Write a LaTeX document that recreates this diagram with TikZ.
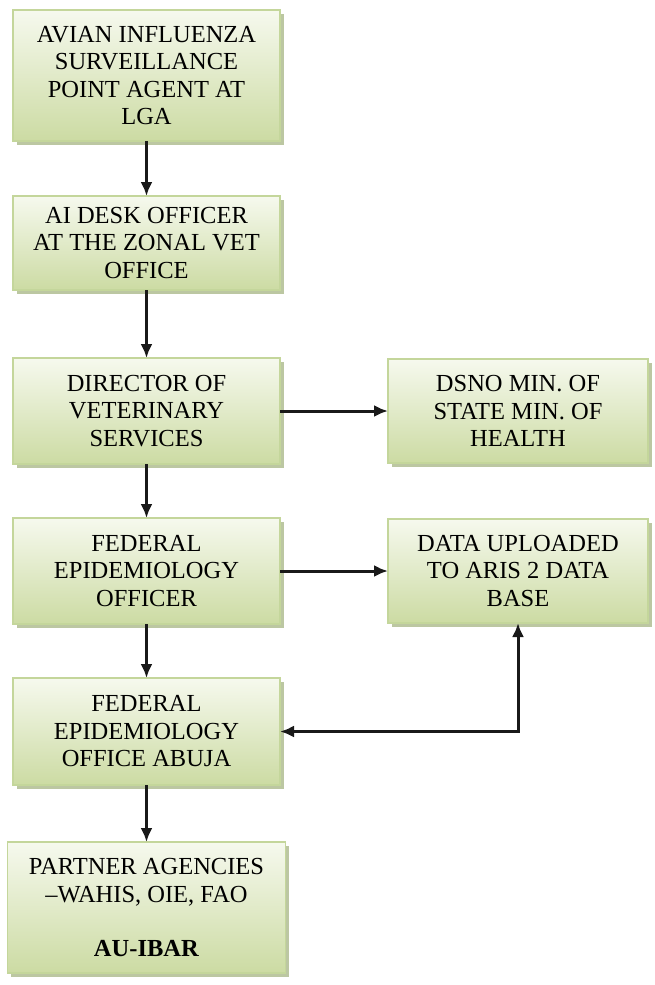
\documentclass[tikz,border=0pt]{standalone}
\usepackage{fontspec}
\setmainfont{Liberation Serif}
\usepackage{tikz}
\usetikzlibrary{arrows.meta,positioning,shadows}
\definecolor{boxlight}{RGB}{246,249,238}
\definecolor{boxdark}{RGB}{204,219,163}
\definecolor{boxedge}{RGB}{196,214,155}
\definecolor{boxshadow}{RGB}{160,175,122}

\begin{document}
\begin{tikzpicture}[>={Latex[length=14pt,width=12pt]}]
  \tikzstyle{box}=[draw=boxedge,line width=1.8pt,top color=boxlight,bottom color=boxdark,
    drop shadow={shadow xshift=3.5pt,shadow yshift=-3.5pt,fill=boxshadow,opacity=.7},
    minimum width=267pt,align=center,text=black,inner sep=2pt,outer sep=0pt,
    font=\fontsize{24.5}{27.5}\selectfont]
  \tikzstyle{link}=[line width=3pt,black!90]
  \useasboundingbox (0,0) rectangle (654pt,-985pt);

  \node[box,minimum height=131pt] (avian) at (146.5pt,-75.5pt) {AVIAN INFLUENZA\\SURVEILLANCE\\POINT AGENT AT\\LGA};
  \node[box,minimum height=94pt] (desk) [below=55pt of avian] {AI DESK OFFICER\\AT THE ZONAL VET\\OFFICE};
  \node[box,minimum height=106pt] (dvs) [below=68pt of desk] {DIRECTOR OF\\VETERINARY\\SERVICES};
  \node[box,minimum height=106pt] (feo) [below=54pt of dvs] {FEDERAL\\EPIDEMIOLOGY\\OFFICER};
  \node[box,minimum height=107pt] (abuja) [below=54pt of feo] {FEDERAL\\EPIDEMIOLOGY\\OFFICE ABUJA};
  \node[box,minimum height=131pt,minimum width=278pt] (partner) [below=57pt of abuja]
    {PARTNER AGENCIES\\\textendash WAHIS, OIE, FAO\\[27pt]\textbf{AU-IBAR}};

  \node[box,minimum height=104pt,minimum width=260pt] (dsno) [right=108pt of dvs] {DSNO MIN. OF\\STATE MIN. OF\\HEALTH};
  \node[box,minimum height=104pt,minimum width=260pt] (aris) [right=108pt of feo] {DATA UPLOADED\\TO ARIS 2 DATA\\BASE};

  \path[->,link]
  (avian) edge (desk)
  (desk)  edge (dvs)
  (dvs)   edge (feo)
  (feo)   edge (abuja)
  (abuja) edge (partner)

  (dvs) edge (dsno)
  (feo) edge (aris);

  \draw[<->,link] (aris.south) |- (abuja.east);
\end{tikzpicture}
\end{document}
